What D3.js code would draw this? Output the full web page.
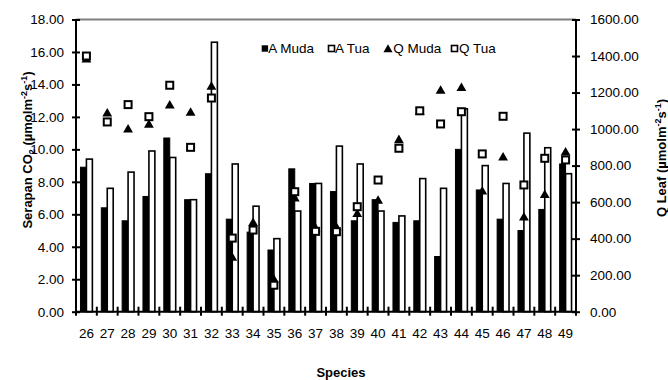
<!DOCTYPE html>
<html>
<head>
<meta charset="utf-8">
<script src="https://cdn.jsdelivr.net/npm/d3@7"></script>
<style>
  body { margin: 0; background: #fff; }
  svg { font-family: "Liberation Sans", Arial, sans-serif; }
</style>
</head>
<body>
<div id="chart"></div>
<script>
// species on x axis
const species = ['26','27','28','29','30','31','32','33','34','35','36','37','38','39','40','41','42','43','44','45','46','47','48','49'];
// left axis (bars)
const aMuda = [8.9, 6.4, 5.6, 7.1, 10.7, 6.9, 8.5, 5.7, 4.9, 3.8, 8.8, 7.9, 7.4, 5.6, 6.9, 5.5, 5.6, 3.4, 10.0, 7.5, 5.7, 5.0, 6.3, 9.1];
const aTua  = [9.4, 7.6, 8.6, 9.9, 9.5, 6.9, 16.6, 9.1, 6.5, 4.5, 6.2, 7.9, 10.2, 9.1, 6.2, 5.9, 8.2, 7.6, 12.5, 9.0, 7.9, 11.0, 10.1, 8.5];
// right axis (markers)
const qMuda = [1385, 1090, 1002, 1028, 1134, 1094, 1236, 300, 490, 180, 625, 460, 465, 540, 612, 944, 1100, 1214, 1229, 663, 849, 520, 643, 876];
const qTua  = [1400, 1039, 1134, 1068, 1240, 900, 1170, 403, 447, 145, 657, 440, 438, 575, 721, 895, 1100, 1028, 1095, 864, 1070, 694, 840, 831];

const leftTicks = [0, 2, 4, 6, 8, 10, 12, 14, 16, 18];
const rightTicks = [0, 200, 400, 600, 800, 1000, 1200, 1400, 1600];

const W = 668, H = 380;
const x0 = 76, x1 = 576, yTop = 19.5, yBot = 311.7;
const fs = 13.5;

const svg = d3.select('#chart').append('svg')
  .attr('width', W)
  .attr('height', H);

const x = d3.scaleBand().domain(species).range([x0, x1]).padding(0);
const yL = d3.scaleLinear().domain([0, 18]).range([yBot, yTop]);
const yR = d3.scaleLinear().domain([0, 1600]).range([yBot, yTop]);

const barW = x.bandwidth() / 3.5;

// top border line
svg.append('line')
  .attr('x1', x0).attr('x2', x1)
  .attr('y1', yTop).attr('y2', yTop)
  .attr('stroke', '#808080')
  .attr('stroke-width', 2);

// bars
const cx = d => x(d) + x.bandwidth() / 2;

svg.selectAll('.bar-muda')
  .data(species)
  .enter()
  .append('rect')
  .attr('x', d => cx(d) - barW)
  .attr('y', (d, i) => yL(aMuda[i]))
  .attr('width', barW)
  .attr('height', (d, i) => yBot - yL(aMuda[i]))
  .attr('fill', '#000')
  .attr('stroke', '#000')
  .attr('stroke-width', 1);

svg.selectAll('.bar-tua')
  .data(species)
  .enter()
  .append('rect')
  .attr('x', d => cx(d))
  .attr('y', (d, i) => yL(aTua[i]))
  .attr('width', barW)
  .attr('height', (d, i) => yBot - yL(aTua[i]))
  .attr('fill', '#fff')
  .attr('stroke', '#000')
  .attr('stroke-width', 1.6);

// markers
const tri = d3.symbol().type(d3.symbolTriangle).size(42);

svg.selectAll('.q-muda')
  .data(species)
  .enter()
  .append('path')
  .attr('d', tri)
  .attr('transform', (d, i) => `translate(${cx(d)},${yR(qMuda[i]) + 1})`)
  .attr('fill', '#000');

svg.selectAll('.q-tua')
  .data(species)
  .enter()
  .append('rect')
  .attr('x', d => cx(d) - 3.5)
  .attr('y', (d, i) => yR(qTua[i]) - 3.5)
  .attr('width', 7)
  .attr('height', 7)
  .attr('fill', '#fff')
  .attr('stroke', '#000')
  .attr('stroke-width', 2);

// axes
const axL = svg.append('g')
  .attr('transform', `translate(${x0},0)`)
  .call(d3.axisLeft(yL).tickValues(leftTicks).tickFormat(d3.format('.2f')).tickSize(4).tickPadding(8));
axL.selectAll('.tick line').attr('x1', 4);

const axR = svg.append('g')
  .attr('transform', `translate(${x1},0)`)
  .call(d3.axisRight(yR).tickValues(rightTicks).tickFormat(d3.format('.2f')).tickSize(4).tickPadding(10));
axR.selectAll('.tick line').attr('x1', -4);

const axB = svg.append('g')
  .attr('transform', `translate(0,${yBot})`)
  .call(d3.axisBottom(x).tickSize(0).tickPadding(17));

// category boundary ticks on x axis
svg.selectAll('.xtick')
  .data(d3.range(species.length + 1))
  .enter()
  .append('line')
  .attr('x1', i => x0 + i * x.bandwidth())
  .attr('x2', i => x0 + i * x.bandwidth())
  .attr('y1', yBot - 5)
  .attr('y2', yBot + 4)
  .attr('stroke', '#000')
  .attr('stroke-width', 2);

[axL, axR, axB].forEach(g => {
  g.select('.domain').attr('stroke', '#000').attr('stroke-width', 2);
  g.selectAll('.tick line').attr('stroke', '#000').attr('stroke-width', 2);
  g.selectAll('text')
    .attr('font-family', '"Liberation Sans", Arial, sans-serif')
    .attr('font-size', fs)
    .attr('fill', '#000');
});
axL.select('.domain').attr('d', `M0,${yBot}V${yTop}`);
axR.select('.domain').attr('d', `M0,${yBot}V${yTop}`);
axB.select('.domain').attr('d', `M${x0},0H${x1}`);

// axis titles
const titleL = svg.append('text')
  .attr('transform', 'translate(32,150) rotate(-90)')
  .attr('text-anchor', 'middle')
  .attr('font-size', 13)
  .attr('font-weight', 'bold');
titleL.append('tspan').text('Serapan CO');
titleL.append('tspan').attr('font-size', 9).attr('dy', 3).text('2');
titleL.append('tspan').attr('dy', -3).text(' (µmolm');
titleL.append('tspan').attr('font-size', 9).attr('dy', -5).text('-2');
titleL.append('tspan').attr('dy', 5).text('s');
titleL.append('tspan').attr('font-size', 9).attr('dy', -5).text('-1');
titleL.append('tspan').attr('dy', 5).text(')');

const titleR = svg.append('text')
  .attr('transform', 'translate(666,158) rotate(-90)')
  .attr('text-anchor', 'middle')
  .attr('font-size', 13)
  .attr('font-weight', 'bold');
titleR.append('tspan').text('Q Leaf  (µmolm');
titleR.append('tspan').attr('font-size', 9).attr('dy', -5).text('-2');
titleR.append('tspan').attr('dy', 5).text('s');
titleR.append('tspan').attr('font-size', 9).attr('dy', -5).text('-1');
titleR.append('tspan').attr('dy', 5).text(')');

svg.append('text')
  .attr('x', 341)
  .attr('y', 377)
  .attr('text-anchor', 'middle')
  .attr('font-size', 13)
  .attr('font-weight', 'bold')
  .text('Species');

// legend
const legendItems = [
  { label: 'A Muda', shape: 'fill', x: 261.7, tx: 268.3 },
  { label: 'A Tua', shape: 'open', x: 327.7, tx: 335 },
  { label: 'Q Muda', shape: 'tri', x: 384, tx: 393.3 },
  { label: 'Q Tua', shape: 'open', x: 450.7, tx: 459 }
];
const legend = svg.append('g');
legendItems.forEach(it => {
  const g = legend.append('g').attr('transform', `translate(${it.x},48.5)`);
  if (it.shape === 'tri') {
    g.append('path').attr('d', d3.symbol().type(d3.symbolTriangle).size(36)).attr('transform', 'translate(4,1)').attr('fill', '#000');
  } else if (it.shape === 'fill') {
    g.append('rect').attr('x', 0).attr('y', -3.2).attr('width', 6.4).attr('height', 6.4).attr('fill', '#000');
  } else {
    g.append('rect').attr('x', 0.8).attr('y', -3).attr('width', 6).attr('height', 6)
      .attr('fill', '#fff').attr('stroke', '#000').attr('stroke-width', 1.6);
  }
  g.append('text')
    .attr('x', it.tx - it.x)
    .attr('y', 4.6)
    .attr('font-size', fs)
    .text(it.label);
});
</script>
</body>
</html>
